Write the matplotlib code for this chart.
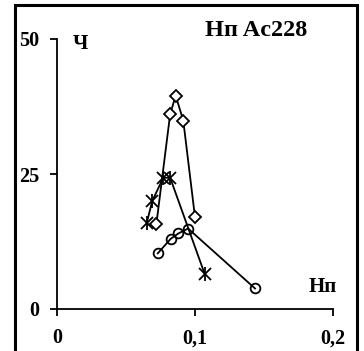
import matplotlib
matplotlib.use("Agg")
import matplotlib.pyplot as plt
from matplotlib.patches import Rectangle

# diamonds
dia_x = [0.072, 0.082, 0.086, 0.0915, 0.100]
dia_y = [15.7, 36.1, 39.5, 34.9, 17.0]
# stars
star_x = [0.065, 0.069, 0.077, 0.082, 0.107]
star_y = [15.9, 20.0, 24.3, 24.3, 6.5]
# circles
circ_x = [0.073, 0.0824, 0.088, 0.095, 0.1435]
circ_y = [10.3, 13.0, 14.0, 14.9, 3.8]

xticks = [0, 0.1, 0.2]
xticklabels = ["0", "0,1", "0,2"]
yticks = [0, 25, 50]

plt.rcParams.update({"font.family": "Liberation Serif", "font.weight": "bold", "font.size": 14.5})
fig = plt.figure(figsize=(3.64, 3.51), dpi=100)
ax = fig.add_axes([57 / 364, 1 - 309 / 351, (333 - 57) / 364, (309 - 39) / 351])

lw = 1.3
ax.plot(dia_x, dia_y, "-", color="black", lw=lw, marker="D", ms=6.5, mfc="white", mec="black", mew=1.3)
ax.plot(star_x, star_y, "-", color="black", lw=lw)
ax.plot(star_x, star_y, "x", color="black", ms=8, mew=1.3)
ax.plot(star_x, star_y, "|", color="black", ms=10, mew=1.3)
ax.plot(circ_x, circ_y, "-", color="black", lw=lw, marker="o", ms=7, mfc="none", mec="black", mew=1.3)

ax.set_xlim(0, 0.2)
ax.set_ylim(0, 50)
ax.set_xticks(xticks)
ax.set_xticklabels(xticklabels)
ax.set_yticks(yticks)
for s in ["top", "right"]:
    ax.spines[s].set_visible(False)
for s in ["left", "bottom"]:
    ax.spines[s].set_linewidth(1.3)
ax.tick_params(direction="out", length=5, width=1.3)
ax.tick_params(axis="x", pad=9)
ax.tick_params(axis="y", pad=8)

fig.text(80 / 364, 1 - 44 / 351, "Ч", ha="center", va="center", fontsize=15, fontweight="bold")
fig.text(323 / 364, 1 - 287 / 351, "Нп", ha="center", va="center", fontsize=15, fontweight="bold")
fig.text(256 / 364, 1 - 30 / 351, "Нп Ac228", ha="center", va="center", fontsize=17.5, fontweight="bold")

fig.patches.append(Rectangle((15 / 364, -0.05), (357 - 15) / 364, 1.05 - 5 / 351,
                             transform=fig.transFigure, fill=False, lw=2.2, ec="black"))

fig.savefig("out.png", dpi=100)
